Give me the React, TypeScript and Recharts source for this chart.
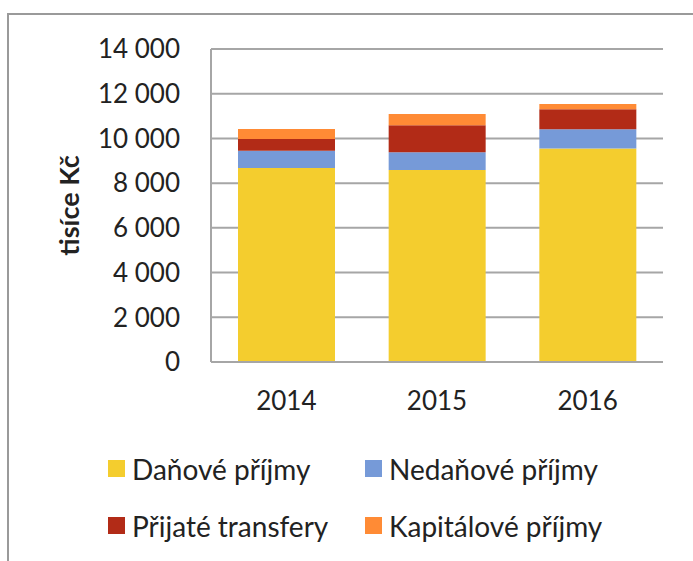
import React from 'react';
import { BarChart, Bar, XAxis, YAxis, CartesianGrid, Legend } from 'recharts';

const years = ['2014', '2015', '2016'];
const danovePrijmy = [8680, 8591, 9544];
const nedanovePrijmy = [774, 792, 868];
const prijateTransfery = [524, 1208, 894];
const kapitalovePrijmy = [447, 505, 238];
const yTicks = [0, 2000, 4000, 6000, 8000, 10000, 12000, 14000];
const seriesNames = ['Daňové příjmy', 'Nedaňové příjmy', 'Přijaté transfery', 'Kapitálové příjmy'];
const seriesColors = ['#F4CD2E', '#769AD8', '#B22B17', '#FF8B35'];
const yLabel = 'tisíce Kč';

const data = years.map((y, i) => ({
  year: y,
  s0: danovePrijmy[i],
  s1: nedanovePrijmy[i],
  s2: prijateTransfery[i],
  s3: kapitalovePrijmy[i],
}));

const FONT = 'Lato, "Open Sans", sans-serif';
const TEXT = '#222222';
const GRID = '#A6A6A6';

const fmt = (v: number) => String(v).replace(/\B(?=(\d{3})+(?!\d))/g, ' ');

const renderLegend = (props: any) => {
  const payload = [...(props.payload || [])].sort(
    (a: any, b: any) => seriesNames.indexOf(a.value) - seriesNames.indexOf(b.value)
  );
  return (
    <div
      style={{
        display: 'grid',
        gridTemplateColumns: '257px 300px',
        gridAutoRows: '57px',
        height: 114,
        fontFamily: FONT,
        fontSize: 28,
        color: TEXT,
      }}
    >
      {payload.map((p: any) => (
        <div key={p.value} style={{ display: 'flex', alignItems: 'center' }}>
          <span
            style={{
              display: 'inline-block',
              width: 17,
              height: 17,
              background: p.color,
              marginRight: 7,
              flexShrink: 0,
            }}
          />
          <span style={{ whiteSpace: 'nowrap' }}>{p.value}</span>
        </div>
      ))}
    </div>
  );
};

const renderYLabel = (props: any) => {
  const vb = props.viewBox || { x: 0, y: 0, width: 0, height: 0 };
  const cx = vb.x + 68;
  const cy = vb.y + vb.height / 2;
  return (
    <text
      x={cx}
      y={cy}
      transform={`rotate(-90 ${cx} ${cy})`}
      textAnchor="middle"
      dominantBaseline="central"
      fontFamily={FONT}
      fontWeight="bold"
      fontSize={27}
      fill={TEXT}
    >
      {yLabel}
    </text>
  );
};

export default function App() {
  return (
    <div style={{ position: 'absolute', left: 0, top: 0, width: 693, height: 561 }}>
      <div
        style={{
          position: 'absolute',
          left: 7,
          top: 13,
          width: 686,
          height: 548,
          borderTop: '2px solid #9A9A9A',
          borderLeft: '2px solid #9A9A9A',
          boxSizing: 'border-box',
        }}
      />
      <BarChart
        width={693}
        height={561}
        data={data}
        margin={{ top: 49, right: 30, left: 0, bottom: 0 }}
        barSize={97}
        style={{ fontFamily: FONT }}
      >
        <CartesianGrid vertical={false} stroke={GRID} strokeWidth={2} />
        <XAxis
          dataKey="year"
          height={85}
          tickLine={false}
          tickSize={6}
          tickMargin={24}
          axisLine={{ stroke: GRID, strokeWidth: 2 }}
          tick={{ fill: TEXT, fontSize: 26, fontFamily: FONT }}
        />
        <YAxis
          width={211}
          domain={[0, 14000]}
          ticks={yTicks}
          tickFormatter={fmt}
          tickLine={false}
          tickSize={6}
          tickMargin={25}
          axisLine={{ stroke: GRID, strokeWidth: 2 }}
          tick={{ fill: TEXT, fontSize: 26, fontFamily: FONT }}
          label={renderYLabel}
        />
        <Legend
          layout="horizontal"
          verticalAlign="bottom"
          align="center"
          itemSorter="dataKey"
          wrapperStyle={{ top: 440, left: 108, width: 570, height: 114 }}
          content={renderLegend}
        />
        <Bar dataKey="s0" name={seriesNames[0]} stackId="a" fill={seriesColors[0]} isAnimationActive={false} />
        <Bar dataKey="s1" name={seriesNames[1]} stackId="a" fill={seriesColors[1]} isAnimationActive={false} />
        <Bar dataKey="s2" name={seriesNames[2]} stackId="a" fill={seriesColors[2]} isAnimationActive={false} />
        <Bar dataKey="s3" name={seriesNames[3]} stackId="a" fill={seriesColors[3]} isAnimationActive={false} />
      </BarChart>
    </div>
  );
}
